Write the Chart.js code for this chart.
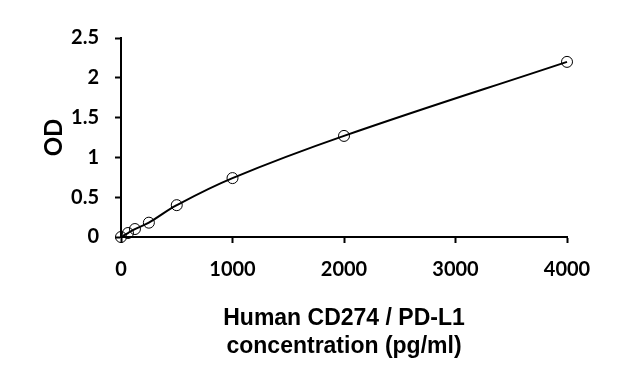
<!DOCTYPE html>
<html>
<head>
<meta charset="utf-8">
<script src="https://cdn.jsdelivr.net/npm/chart.js@4"></script>
<style>
    html, body { margin: 0; padding: 0; background: #fff; }
    #wrap { width: 626px; height: 377px; }
</style>
</head>
<body>
<div id="wrap"><canvas id="chart"></canvas></div>
<script>
// standard curve values
const concentrations = [0, 62.5, 125, 250, 500, 1000, 2000, 4000];
const odValues = [0, 0.05, 0.1, 0.18, 0.4, 0.74, 1.27, 2.2];
const xTicks = [0, 1000, 2000, 3000, 4000];
const yTicks = [0, 0.5, 1, 1.5, 2, 2.5];

const tickFont = { family: 'Lato', size: 20, weight: 'bold' };

function renderCurve() {
    const ctx = document.getElementById('chart');

    new Chart(ctx, {
        type: 'line',
        data: {
            datasets: [{
                data: concentrations.map((c, i) => ({ x: c, y: odValues[i] })),
                borderColor: '#000',
                borderWidth: 2,
                tension: 0.4,
                clip: false,
                pointRadius: 5.5,
                pointBorderWidth: 1,
                pointBorderColor: '#000',
                pointBackgroundColor: 'rgba(255,255,255,0)'
            }]
        },
        options: {
            responsive: true,
            maintainAspectRatio: false,
            animation: false,
            layout: {
                padding: { top: 38, right: 59, left: 0, bottom: 0 }
            },
            plugins: {
                legend: { display: false },
                tooltip: { enabled: false }
            },
            scales: {
                x: {
                    type: 'linear',
                    min: 0,
                    max: 4000,
                    afterBuildTicks: scale => {
                        scale.ticks = xTicks.map(v => ({ value: v }));
                    },
                    afterFit: scale => { scale.height = 140; },
                    border: { color: '#000', width: 2 },
                    grid: {
                        drawOnChartArea: false,
                        tickLength: 6,
                        tickWidth: 2,
                        tickColor: '#000'
                    },
                    ticks: {
                        color: '#000',
                        font: tickFont,
                        padding: 15,
                        maxRotation: 0,
                        callback: v => String(v)
                    },
                    title: {
                        display: true,
                        text: ['Human CD274 / PD-L1', 'concentration (pg/ml)'],
                        color: '#000',
                        font: { family: 'Liberation Sans', size: 23, weight: 'bold' },
                        padding: { top: 4, bottom: 17 }
                    }
                },
                y: {
                    min: 0,
                    max: 2.5,
                    afterBuildTicks: scale => {
                        scale.ticks = yTicks.map(v => ({ value: v }));
                    },
                    afterFit: scale => { scale.width = 121; },
                    border: { color: '#000', width: 2 },
                    grid: {
                        drawOnChartArea: false,
                        tickLength: 6,
                        tickWidth: 2,
                        tickColor: '#000'
                    },
                    ticks: {
                        color: '#000',
                        font: tickFont,
                        padding: 16,
                        callback: v => String(v)
                    },
                    title: {
                        display: true,
                        text: 'OD',
                        color: '#000',
                        font: { family: 'Lato', size: 24, weight: 'bold' },
                        padding: { top: 40, bottom: 0 }
                    }
                }
            }
        }
    });
}

renderCurve();
</script>
</body>
</html>
